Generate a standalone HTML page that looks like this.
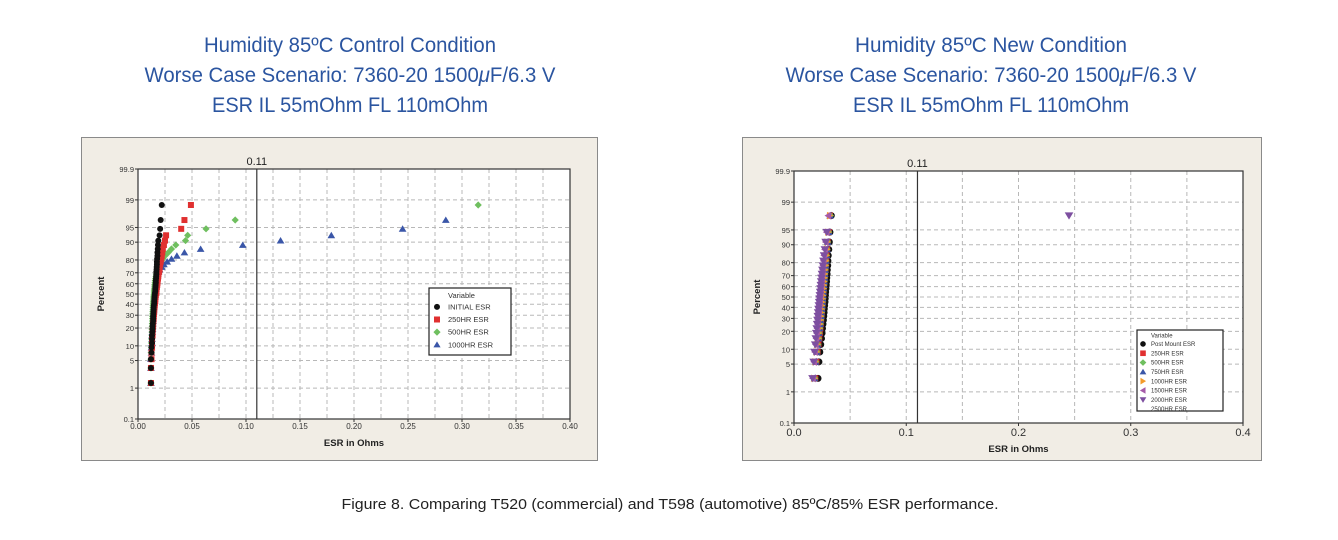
<!DOCTYPE html>
<html><head><meta charset="utf-8"><style>
html,body{margin:0;padding:0;background:#fff;}
svg{display:block;font-family:"Liberation Sans",sans-serif;}
</style></head><body>
<svg id="root" width="1338" height="540" viewBox="0 0 1338 540" xmlns="http://www.w3.org/2000/svg">
<g fill="#2b55a0" font-size="21" text-anchor="middle">
<text x="350" y="52" textLength="292" lengthAdjust="spacingAndGlyphs">Humidity 85ºC Control Condition</text>
<text x="350" y="82" textLength="411" lengthAdjust="spacingAndGlyphs">Worse Case Scenario: 7360-20 1500<tspan font-style="italic">μ</tspan>F/6.3 V</text>
<text x="350" y="112" textLength="276" lengthAdjust="spacingAndGlyphs">ESR IL 55mOhm FL 110mOhm</text>
</g>
<g fill="#2b55a0" font-size="21" text-anchor="middle">
<text x="991" y="52" textLength="272" lengthAdjust="spacingAndGlyphs">Humidity 85ºC New Condition</text>
<text x="991" y="82" textLength="411" lengthAdjust="spacingAndGlyphs">Worse Case Scenario: 7360-20 1500<tspan font-style="italic">μ</tspan>F/6.3 V</text>
<text x="991" y="112" textLength="276" lengthAdjust="spacingAndGlyphs">ESR IL 55mOhm FL 110mOhm</text>
</g>
<text x="670" y="509" font-size="15" text-anchor="middle" fill="#222" textLength="657" lengthAdjust="spacingAndGlyphs">Figure 8. Comparing T520 (commercial) and T598 (automotive) 85ºC/85% ESR performance.</text>
<g id="left"></g>
<g id="right"></g>
</svg>
<script>
// ---- Data: left chart (ESR in Ohms, sorted) ----
const leftInitial = [0.012,0.012,0.012,0.0125,0.0125,0.013,0.013,0.013,0.0133,0.0135,0.0135,0.0137,0.014,0.014,0.014,0.0142,0.0143,0.0145,0.0145,0.0147,0.015,0.015,0.0152,0.0153,0.0155,0.0157,0.016,0.016,0.0162,0.0163,0.0165,0.0165,0.0167,0.0168,0.017,0.017,0.0172,0.0173,0.0175,0.0175,0.0177,0.018,0.018,0.0183,0.0185,0.0188,0.02,0.0205,0.021,0.022];
const left250 = [0.012,0.012,0.0125,0.0125,0.013,0.013,0.013,0.0135,0.0135,0.0137,0.014,0.014,0.0142,0.0145,0.0145,0.0148,0.015,0.015,0.0153,0.0155,0.0157,0.016,0.016,0.0163,0.0165,0.017,0.017,0.0172,0.0175,0.0178,0.018,0.0182,0.0185,0.0188,0.019,0.0195,0.02,0.02,0.0205,0.021,0.0215,0.022,0.0225,0.023,0.024,0.025,0.026,0.040,0.043,0.049];
const left500 = [0.012,0.012,0.012,0.0122,0.0125,0.0125,0.0127,0.013,0.013,0.013,0.0132,0.0133,0.0135,0.0135,0.0135,0.0137,0.0138,0.014,0.014,0.014,0.0142,0.0143,0.0145,0.0145,0.0147,0.015,0.015,0.0152,0.0155,0.0155,0.0158,0.016,0.0163,0.0167,0.017,0.0175,0.018,0.019,0.02,0.021,0.023,0.025,0.028,0.031,0.035,0.044,0.046,0.063,0.09,0.315];
const left1000 = [0.012,0.012,0.012,0.0125,0.0125,0.013,0.013,0.013,0.0133,0.0135,0.0135,0.0137,0.014,0.014,0.014,0.0142,0.0143,0.0145,0.0145,0.0147,0.015,0.015,0.0152,0.0153,0.0155,0.0155,0.0157,0.016,0.016,0.0162,0.0165,0.017,0.017,0.0175,0.018,0.019,0.02,0.022,0.024,0.027,0.031,0.036,0.043,0.058,0.097,0.132,0.179,0.245,0.285,0.5];
const leftXTicks = ["0.00","0.05","0.10","0.15","0.20","0.25","0.30","0.35","0.40"];
const yTicks = [0.1,1,5,10,20,30,40,50,60,70,80,90,95,99,99.9];
const yTickLabels = ["0.1","1","5","10","20","30","40","50","60","70","80","90","95","99","99.9"];
// ---- Data: right chart ----
const rightPost = [0.0214,0.0222,0.023,0.0238,0.0245,0.025,0.0254,0.0258,0.0262,0.0265,0.0268,0.027,0.0273,0.0276,0.0278,0.028,0.0282,0.0285,0.0287,0.029,0.0292,0.0295,0.0297,0.03,0.0302,0.0305,0.031,0.0315,0.032,0.0332];
const right250 = [0.019,0.02,0.021,0.0218,0.0225,0.023,0.0235,0.0238,0.0242,0.0245,0.0248,0.025,0.0253,0.0256,0.0258,0.026,0.0263,0.0265,0.0268,0.027,0.0273,0.0276,0.028,0.0283,0.0287,0.029,0.0295,0.03,0.031,0.032];
const right500 = [0.0185,0.0195,0.0205,0.0213,0.022,0.0225,0.023,0.0235,0.0238,0.0242,0.0245,0.0248,0.025,0.0253,0.0256,0.0258,0.026,0.0263,0.0266,0.0269,0.0272,0.0275,0.0278,0.0282,0.0285,0.029,0.0295,0.03,0.031,0.0325];
const right750 = [0.0183,0.0193,0.0203,0.021,0.0217,0.0222,0.0227,0.0232,0.0236,0.024,0.0243,0.0246,0.0249,0.0252,0.0255,0.0257,0.026,0.0263,0.0266,0.0269,0.0272,0.0275,0.0278,0.0282,0.0286,0.029,0.0295,0.03,0.031,0.0322];
const right1000 = [0.018,0.019,0.02,0.0207,0.0214,0.022,0.0225,0.023,0.0234,0.0238,0.0241,0.0244,0.0247,0.025,0.0253,0.0256,0.0259,0.0262,0.0265,0.0268,0.0271,0.0274,0.0277,0.028,0.0284,0.0288,0.0293,0.0298,0.0305,0.032];
const right1500 = [0.0168,0.0178,0.0186,0.0193,0.0198,0.0203,0.0207,0.021,0.0213,0.0216,0.0219,0.0222,0.0225,0.0228,0.023,0.0233,0.0236,0.0239,0.0242,0.0245,0.0248,0.0251,0.0255,0.0259,0.0263,0.0268,0.0275,0.0282,0.029,0.0305];
const right2000 = [0.0165,0.0175,0.0183,0.0189,0.0194,0.0198,0.0202,0.0206,0.0209,0.0212,0.0215,0.0218,0.0221,0.0224,0.0227,0.023,0.0233,0.0236,0.0239,0.0242,0.0245,0.0249,0.0253,0.0257,0.0262,0.0268,0.0275,0.0282,0.0292,0.245];
const rightXTicks = ["0.0","0.1","0.2","0.3","0.4"];

const NS = "http://www.w3.org/2000/svg";
function mk(tag, attrs, parent) {
  const e = document.createElementNS(NS, tag);
  for (const k in attrs) e.setAttribute(k, attrs[k]);
  parent.appendChild(e);
  return e;
}
// inverse normal CDF (Acklam)
function ninv(p) {
  const a=[-39.69683028665376,220.9460984245205,-275.9285104469687,138.3577518672690,-30.66479806614716,2.506628277459239];
  const b=[-54.47609879822406,161.5858368580409,-155.6989798598866,66.80131188771720,-13.28068155288572];
  const c=[-0.007784894002430293,-0.3223964580411365,-2.400758277161838,-2.549732539343734,4.374664141464968,2.938163982698783];
  const d=[0.007784695709041462,0.3224671290700398,2.445134137142996,3.754408661907416];
  const pl=0.02425;
  if (p<pl){const q=Math.sqrt(-2*Math.log(p));return (((((c[0]*q+c[1])*q+c[2])*q+c[3])*q+c[4])*q+c[5])/((((d[0]*q+d[1])*q+d[2])*q+d[3])*q+1);}
  if (p>1-pl){const q=Math.sqrt(-2*Math.log(1-p));return -(((((c[0]*q+c[1])*q+c[2])*q+c[3])*q+c[4])*q+c[5])/((((d[0]*q+d[1])*q+d[2])*q+d[3])*q+1);}
  const q=p-0.5,r=q*q;return (((((a[0]*r+a[1])*r+a[2])*r+a[3])*r+a[4])*r+a[5])*q/(((((b[0]*r+b[1])*r+b[2])*r+b[3])*r+b[4])*r+1);
}
function marker(g, shape, x, y, s, color) {
  let el;
  if (shape === "circle") el = mk("circle", {cx:x, cy:y, r:s, fill:color}, g);
  else if (shape === "square") el = mk("rect", {x:x-s, y:y-s, width:2*s, height:2*s, fill:color}, g);
  else if (shape === "diamond") el = mk("polygon", {points:`${x},${y-s*1.2} ${x+s*1.2},${y} ${x},${y+s*1.2} ${x-s*1.2},${y}`, fill:color}, g);
  else if (shape === "up") el = mk("polygon", {points:`${x},${y-s*1.1} ${x+s*1.2},${y+s*0.9} ${x-s*1.2},${y+s*0.9}`, fill:color}, g);
  else if (shape === "down") el = mk("polygon", {points:`${x},${y+s*1.1} ${x+s*1.2},${y-s*0.9} ${x-s*1.2},${y-s*0.9}`, fill:color}, g);
  else if (shape === "right") el = mk("polygon", {points:`${x+s*1.1},${y} ${x-s*0.9},${y-s*1.2} ${x-s*0.9},${y+s*1.2}`, fill:color}, g);
  else el = mk("polygon", {points:`${x-s*1.1},${y} ${x+s*0.9},${y-s*1.2} ${x+s*0.9},${y+s*1.2}`, fill:color}, g);
  return el;
}

function drawChart(root, cfg) {
  const {panel, L, R, T, B, xmax, xTicks, gridStep, series, tickFont} = cfg;
  const X = v => L + v / xmax * (R - L);
  const z0 = ninv(0.001), z1 = ninv(0.999);
  const Y = p => B - (ninv(p / 100) - z0) / (z1 - z0) * (B - T);
  const bg = mk("rect", {x:panel[0], y:panel[1], width:panel[2], height:panel[3], fill:"#f1ede5", stroke:"#8a8a8a", "stroke-width":1}, root);
  
  
  const pa = mk("rect", {x:L, y:T, width:R-L, height:B-T, fill:"#fff"}, root);
  
  
  const grid = mk("g", {stroke:"#b8b8b8", "stroke-width":1, "stroke-dasharray":"4,3"}, root);
  
  
  for (let v = gridStep; v < xmax - 1e-9; v += gridStep) mk("line", {x1:X(v), x2:X(v), y1:T, y2:B}, grid);
  yTicks.forEach(p => { if (p > 0.1 && p < 99.9) mk("line", {x1:L, x2:R, y1:Y(p), y2:Y(p)}, grid); });
  // y ticks
  const yax = mk("g", {"font-size":tickFont, fill:"#333", "text-anchor":"end"}, root);
  
  
  yTicks.forEach((p, i) => {
    mk("line", {x1:L-3, x2:L, y1:Y(p), y2:Y(p), stroke:"#333"}, yax);
    const t = mk("text", {x:L-4, y:Y(p)+3}, yax);
    t.textContent = yTickLabels[i];
  });
  const xax = mk("g", {"font-size":cfg.xFont, fill:"#333", "text-anchor":"middle"}, root);
  
  
  xTicks.forEach((lab, i) => {
    const v = i * xmax / (xTicks.length - 1);
    mk("line", {x1:X(v), x2:X(v), y1:B, y2:B+3, stroke:"#333"}, xax);
    const t = mk("text", {x:X(v), y:B+cfg.xFont+2}, xax);
    t.textContent = lab;
  });
  // ref line
  const rl = mk("line", {x1:X(0.11), x2:X(0.11), y1:T, y2:B, stroke:"#333", "stroke-width":1.2}, root);
  
  
  const rt = mk("text", {x:X(0.11), y:T-4, "font-size":11, "text-anchor":"middle", fill:"#222"}, root);
  rt.textContent = "0.11";
  
  
  // series
  const clip = mk("clipPath", {id:cfg.id + "-clip"}, root);
  mk("rect", {x:L, y:T-8, width:R-L, height:B-T+16}, clip);
  series.forEach(s => {
    const g = mk("g", {"clip-path":`url(#${cfg.id}-clip)`}, root);
    
    
    const n = s.data.length;
    s.data.forEach((v, i) => {
      const p = (i + 0.7) / (n + 0.4) * 100;
      const m = marker(g, s.shape, X(v), Y(p), s.size, s.color);
      
      
    });
  });
  // frame
  mk("rect", {x:L, y:T, width:R-L, height:B-T, fill:"none", stroke:"#333", "stroke-width":1.2}, root);
  const yl = mk("text", {x:0, y:0, "font-size":cfg.labFont, "font-weight":"bold", "text-anchor":"middle", fill:"#222", transform:`translate(${cfg.ylx},${(T+B)/2}) rotate(-90)`}, root);
  yl.textContent = "Percent";
  
  
  const xl = mk("text", {x:(L+R)/2, y:cfg.xly, "font-size":cfg.labFont, "font-weight":"bold", "text-anchor":"middle", fill:"#222"}, root);
  xl.textContent = "ESR in Ohms";
  
  
  // legend
  const lg = cfg.legend;
  const lgG = mk("g", {}, root);
  
  
  mk("rect", {x:lg.x, y:lg.y, width:lg.w, height:lg.h, fill:"#fff", stroke:"#222", "stroke-width":1.2}, lgG);
  const vt = mk("text", {x:lg.x+lg.tx, y:lg.y+lg.step*0.8, "font-size":lg.font, fill:"#333"}, lgG);
  vt.textContent = "Variable";
  lg.items.forEach((it, i) => {
    const e = mk("g", {}, lgG);
    
    
    const cy = lg.y + lg.step * (i + 1.5);
    if (it.shape) marker(e, it.shape, lg.x + lg.mx, cy, lg.ms, it.color);
    const t = mk("text", {x:lg.x+lg.tx, y:cy+lg.font*0.35, "font-size":lg.font, fill:"#333"}, e);
    t.textContent = it.label;
  });
}

drawChart(document.getElementById("left"), {
  id:"lc", panel:[81.5,137.5,516,323], L:138, R:570, T:169, B:419, xmax:0.4, gridStep:0.025,
  xTicks:leftXTicks, tickFont:7.5, xFont:8, labFont:9.5, ylx:104, xly:446,
  series:[
    {name:"series-1000hr-esr", data:left1000, shape:"up", color:"#3a56a8", size:3.2},
    {name:"series-500hr-esr", data:left500, shape:"diamond", color:"#6fbf5f", size:3},
    {name:"series-250hr-esr", data:left250, shape:"square", color:"#e03030", size:3},
    {name:"series-initial-esr", data:leftInitial, shape:"circle", color:"#111", size:3}
  ],
  legend:{x:429, y:288, w:82, h:67, step:12.6, font:7.5, tx:19, mx:8, ms:3, items:[
    {label:"INITIAL ESR", shape:"circle", color:"#111"},
    {label:"250HR ESR", shape:"square", color:"#e03030"},
    {label:"500HR ESR", shape:"diamond", color:"#6fbf5f"},
    {label:"1000HR ESR", shape:"up", color:"#3a56a8"}
  ]}
});

drawChart(document.getElementById("right"), {
  id:"rc", panel:[742.5,137.5,519,323], L:794, R:1243, T:171, B:423, xmax:0.4, gridStep:0.05,
  xTicks:rightXTicks, tickFont:7.5, xFont:11, labFont:9.5, ylx:760, xly:452,
  series:[
    {name:"series-post-mount-esr", data:rightPost, shape:"circle", color:"#111", size:3.5},
    {name:"series-250hr-esr", data:right250, shape:"square", color:"#e03030", size:3},
    {name:"series-500hr-esr", data:right500, shape:"diamond", color:"#6fbf5f", size:3},
    {name:"series-750hr-esr", data:right750, shape:"up", color:"#3a56a8", size:3.2},
    {name:"series-1000hr-esr", data:right1000, shape:"right", color:"#f39a2a", size:3.2},
    {name:"series-1500hr-esr", data:right1500, shape:"left", color:"#a55aa8", size:3.4},
    {name:"series-2000hr-esr", data:right2000, shape:"down", color:"#7d4fa0", size:3.6}
  ],
  legend:{x:1137, y:330, w:86, h:81, step:9.3, font:6, tx:14, mx:6, ms:2.8, items:[
    {label:"Post Mount ESR", shape:"circle", color:"#111"},
    {label:"250HR ESR", shape:"square", color:"#e03030"},
    {label:"500HR ESR", shape:"diamond", color:"#6fbf5f"},
    {label:"750HR ESR", shape:"up", color:"#3a56a8"},
    {label:"1000HR ESR", shape:"right", color:"#f39a2a"},
    {label:"1500HR ESR", shape:"left", color:"#a55aa8"},
    {label:"2000HR ESR", shape:"down", color:"#7d4fa0"},
    {label:"2500HR ESR", shape:null, color:"#333"}
  ]}
});
</script>
</body></html>
